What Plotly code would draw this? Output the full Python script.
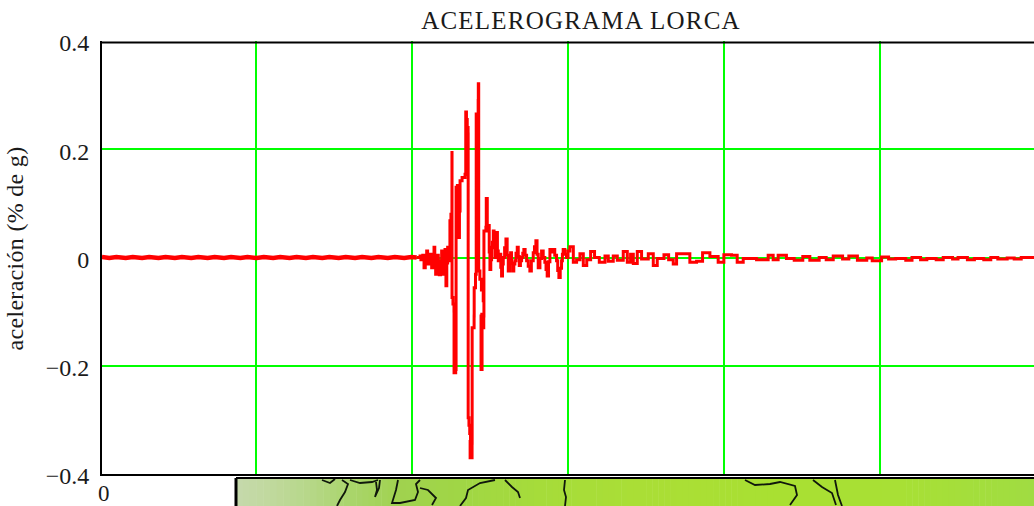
import plotly.graph_objects as go

TITLE = "ACELEROGRAMA LORCA"
Y_LABEL = "aceleración (% de g)"
y_ticks = [-0.4, -0.2, 0, 0.2, 0.4]
y_tick_labels = ["−0.4", "−0.2", "0", "0.2", "0.4"]
x_ticks = [20, 40, 60, 80, 100]

quiet_t = [0.25, 1.2, 2.1, 3.3, 4.2, 5.4, 6.3, 7.5, 8.4, 9.6, 10.5, 11.7, 12.6, 13.8, 14.7, 15.9, 16.8, 18.0,
           18.9, 20.1, 21.0, 22.2, 23.1, 24.3, 25.2, 26.4, 27.3, 28.5, 29.4, 30.6, 31.5, 32.7, 33.6, 34.8, 35.7,
           36.9, 37.8, 39.0, 39.9, 40.6]
quiet_a = [0.001, -0.001, 0.001, -0.001, 0.001, -0.001, 0.001, -0.001, 0.001, -0.001, 0.001, -0.001, 0.001,
           -0.001, 0.001, -0.001, 0.001, -0.001, 0.001, -0.001, 0.001, -0.001, 0.001, -0.001, 0.001, -0.001,
           0.001, -0.001, 0.001, -0.001, 0.001, -0.001, 0.001, -0.001, 0.001, -0.001, 0.001, -0.001, 0.001, 0.000]

burst_t = [40.6, 41.03, 41.14, 41.24, 41.38, 41.54, 41.7, 41.88, 42.0, 42.09, 42.2, 42.31, 42.42, 42.52, 42.66, 42.82, 42.92,
           43.03, 43.2, 43.37, 43.44, 43.50, 43.65, 43.80, 43.9, 44.01, 44.12, 44.23, 44.29, 44.35, 44.46, 44.57,
           44.68, 44.78, 44.86, 44.99, 45.12, 45.13, 45.25, 45.38, 45.39, 45.60, 45.65, 45.82, 45.95, 46.08,
           46.16, 46.42, 46.80, 46.89, 46.98, 47.08, 47.19, 47.20, 47.30, 47.40, 47.50, 47.45, 47.70, 47.71, 47.96, 47.97, 48.14, 48.23,
           48.48, 48.50, 48.55, 48.7, 48.9, 49.13, 49.22, 48.95, 48.85, 48.98, 49.20, 49.22, 49.47, 49.52, 49.65, 49.82,
           49.9, 49.99, 50.1, 50.20, 50.31, 50.42, 50.52, 50.63, 50.74, 50.84, 50.95, 51.06, 51.17, 51.27, 51.38, 51.48,
           51.6, 51.70, 51.87, 52.04, 52.2, 52.34, 52.5, 52.64, 52.76, 52.89, 53.05, 53.19, 53.33, 53.49, 53.62, 53.75,
           53.9, 54.05, 54.2, 54.34, 54.5, 54.69, 54.9, 55.11, 55.3, 55.54, 55.7, 55.88, 56.03, 56.18, 56.4, 56.61,
           56.82, 57.03, 57.18, 57.33, 57.5, 57.68, 57.9, 58.10, 58.3, 58.53, 58.68, 58.83, 59.0, 59.17, 59.28, 59.38,
           59.6, 59.81, 60.0, 60.24]
burst_a = [0.000, 0.003, -0.004, -0.003, 0.004, -0.019, -0.002, 0.012, -0.012, -0.009, 0.004, 0.006, -0.012, -0.019, 0.006, 0.019, -0.014,
           -0.031, 0.004, -0.006, -0.024, -0.032, -0.006, 0.012, -0.014, -0.031, -0.004, 0.015, -0.02, -0.052, -0.01, 0.019,
           0.004, -0.006, 0.068, 0.080, 0.194, -0.074, -0.086, -0.099, -0.213, -0.207, 0.130, 0.133, 0.037, 0.086,
           0.142, 0.148, 0.154, 0.269, 0.255, 0.24, 0.228, -0.296, -0.31, -0.325, -0.340, -0.370, -0.343, -0.130, -0.108, -0.056, -0.031, 0.265,
           0.290, 0.321, -0.025, -0.04, -0.06, -0.080, -0.105, -0.108, -0.207, -0.130, -0.108, 0.049, 0.056, 0.109, 0.049, 0.059,
           0.01, -0.022, -0.004, 0.019, 0.028, 0.049, 0.018, 0.000, 0.022, 0.046, 0.012, -0.006, -0.002, 0.006, -0.018, -0.034,
           -0.012, 0.000, 0.018, 0.034, 0.004, -0.025, -0.006, 0.009, -0.01, -0.025, -0.012, -0.006, 0.008, 0.019, 0.002, -0.015,
           -0.006, 0.000, 0.008, 0.015, 0.004, -0.006, -0.016, -0.025, -0.006, 0.009, 0.02, 0.031, 0.006, -0.019, -0.002, 0.012,
           0.000, -0.009, -0.022, -0.034, -0.008, 0.015, 0.01, 0.015, 0.004, -0.006, -0.024, -0.037, -0.02, -0.006, 0.006, 0.015,
           0.006, 0.000, 0.012, 0.020]

decay_t = [60.68, 61.1, 61.53, 61.96, 62.4, 62.9, 63.4, 64.01, 64.74, 65.16, 65.8, 66.32, 67.08, 67.6, 68.02, 68.37, 68.88, 69.43,
           70.29, 70.93, 71.44, 72.3, 72.9, 73.49, 73.92, 74.98, 75.62, 76.48, 77.25, 78.19, 79.25, 79.98, 80.96, 81.69,
           82.46, 84.17, 85.66, 86.3, 86.94, 88.0, 89.0, 90.1, 91.0, 92.2, 93.1, 94.0, 95.2, 96.0, 97.1, 98.3, 99.0,
           100.2, 101.1, 102.0, 103.3, 104.1, 105.2, 106.0, 107.2, 108.1, 109.3, 110.0, 111.2, 112.1, 113.3, 114.2,
           115.1, 116.3, 117.2, 118.1, 119.8]
decay_a = [-0.009, -0.004, 0.007, -0.015, -0.004, 0.011, 0.000, -0.009, 0.003, -0.007, 0.003, -0.005, 0.011, -0.009, 0.006, -0.011, 0.011, -0.003,
           0.007, -0.015, -0.002, 0.005, -0.004, -0.012, 0.007, 0.007, -0.009, -0.007, 0.009, 0.002, -0.009, 0.005, 0.004, -0.009,
           -0.002, -0.004, 0.004, -0.004, 0.004, -0.002, -0.005, 0.002, -0.005, 0.000, -0.004, 0.003, -0.003, 0.003, -0.005, -0.001, -0.006,
           0.001, -0.003, -0.002, -0.005, 0.000, -0.004, -0.002, -0.004, 0.000, -0.003, 0.000, -0.004, -0.002, -0.004, 0.000,
           -0.003, -0.001, -0.003, 0.000, -0.002]

time_s = burst_t + decay_t
accel = burst_a + decay_a

W, H = 1034, 506
L, R, T, B = 102, 1034, 41, 474
SERIF = "Liberation Serif, Times New Roman, serif"
INK = "#1a1a1a"
GREEN = "#00ff00"


def px(x, y):
    return (x - L) / (R - L), (B - y) / (B - T)


# decorative map strip below the chart
map_stops = [(236, (198, 217, 172)), (270, (192, 217, 158)), (310, (182, 215, 136)), (350, (170, 213, 108)),
             (400, (160, 210, 79)), (460, (160, 214, 69)), (540, (166, 220, 58)), (640, (170, 222, 54)),
             (780, (169, 224, 50)), (900, (168, 224, 53)), (1034, (160, 220, 66))]
map_borders = [
    [(322, 480), (330, 483), (335, 479)],
    [(342, 480), (348, 484), (345, 492), (340, 500), (337, 506)],
    [(350, 480), (360, 483), (372, 482), (378, 480)],
    [(376, 482), (377, 490), (375, 497), (379, 488), (380, 480)],
    [(398, 480), (396, 490), (392, 503), (400, 503), (415, 500), (418, 492), (416, 484), (420, 480)],
    [(420, 488), (428, 490), (436, 498), (432, 505)],
    [(495, 480), (480, 483), (468, 490), (466, 498), (460, 506)],
    [(505, 480), (512, 487), (518, 492), (520, 498)],
    [(565, 480), (564, 490), (566, 497), (565, 506)],
    [(745, 480), (755, 485), (770, 484), (780, 482), (795, 486), (797, 495), (790, 505)],
    [(813, 480), (822, 487), (832, 493), (836, 505)],
    [(835, 480), (838, 495), (842, 506)],
]
shapes = []
for (x0, c0), (x1, c1) in zip(map_stops, map_stops[1:]):
    n = max(1, (x1 - x0) // 6)
    for i in range(n):
        f = (i + 0.5) / n
        col = tuple(round(p + (q - p) * f) for p, q in zip(c0, c1))
        a = px(x0 + (x1 - x0) * i / n, 478)
        b = px(x0 + (x1 - x0) * (i + 1) / n + 0.5, 506)
        shapes.append(dict(type="rect", xref="paper", yref="paper", x0=a[0], y0=a[1], x1=b[0], y1=b[1],
                           fillcolor=f"rgb{col}", line_width=0, layer="above"))
for poly in map_borders:
    pts = [px(*p) for p in poly]
    d = "M " + " L ".join(f"{p[0]:.5f},{p[1]:.5f}" for p in pts)
    shapes.append(dict(type="path", xref="paper", yref="paper", path=d, line=dict(color="#10180c", width=1.8), layer="above"))
a, b, c = px(236, 478), px(1034, 478), px(236, 506)
shapes.append(dict(type="line", xref="paper", yref="paper", x0=a[0], y0=a[1], x1=b[0], y1=b[1], line=dict(color="black", width=2), layer="above"))
shapes.append(dict(type="line", xref="paper", yref="paper", x0=a[0], y0=a[1], x1=c[0], y1=c[1], line=dict(color="black", width=3), layer="above"))
# black top frame just under the green top gridline
a, b = px(102, 42.5), px(1034, 42.5)
shapes.append(dict(type="line", xref="paper", yref="paper", x0=a[0], y0=a[1], x1=b[0], y1=b[1], line=dict(color="black", width=2), layer="above"))

fig = go.Figure()
fig.add_trace(go.Scatter(x=quiet_t, y=quiet_a, mode="lines", line=dict(color="#ff0000", width=4.5), hoverinfo="skip"))
fig.add_trace(go.Scatter(x=time_s, y=accel, mode="lines", line=dict(color="#ff0000", width=3, shape="hv"), hoverinfo="skip"))
fig.update_layout(
    width=W, height=H, margin=dict(l=L, r=W - R, t=T, b=H - B),
    paper_bgcolor="white", plot_bgcolor="white", showlegend=False,
    font=dict(family=SERIF, color=INK),
    title=dict(text=TITLE, x=581 / W, xanchor="center", y=1 - 20 / H, yanchor="middle", font=dict(size=25, family=SERIF, color=INK)),
    shapes=shapes,
    annotations=[dict(text="0", xref="paper", yref="paper", x=px(104, 0)[0], y=px(0, 493.5)[1], showarrow=False,
                      xanchor="center", yanchor="middle", font=dict(size=23, family=SERIF, color=INK))],
)
fig.update_xaxes(range=[0.256, 119.74], tickvals=x_ticks, ticktext=[""] * len(x_ticks), ticks="", showgrid=True,
                 gridcolor=GREEN, gridwidth=2, zeroline=False, showline=True, linecolor="black", linewidth=2)
fig.update_yaxes(range=[-0.4, 0.4], tickvals=y_ticks, ticktext=y_tick_labels, ticks="", showgrid=True,
                 gridcolor=GREEN, gridwidth=2, zeroline=False, showline=True, linecolor="black", linewidth=2,
                 tickfont=dict(size=24, family=SERIF, color=INK), ticklabelstandoff=6,
                 title=dict(text=Y_LABEL, standoff=15, font=dict(size=24, family=SERIF, color=INK)))
POST = """
document.body.style.margin='0';
document.querySelectorAll('.gtitle').forEach(function(t){t.style.letterSpacing='1.2px';});
document.querySelectorAll('.ytitle').forEach(function(t){
  t.style.letterSpacing='0.3px';
  t.setAttribute('transform','translate(0,-9) '+(t.getAttribute('transform')||''));
});
document.querySelectorAll('.ytick text').forEach(function(t){t.setAttribute('dy','2');});
"""
fig.write_html("out.html", config={"displayModeBar": False}, post_script=POST)
